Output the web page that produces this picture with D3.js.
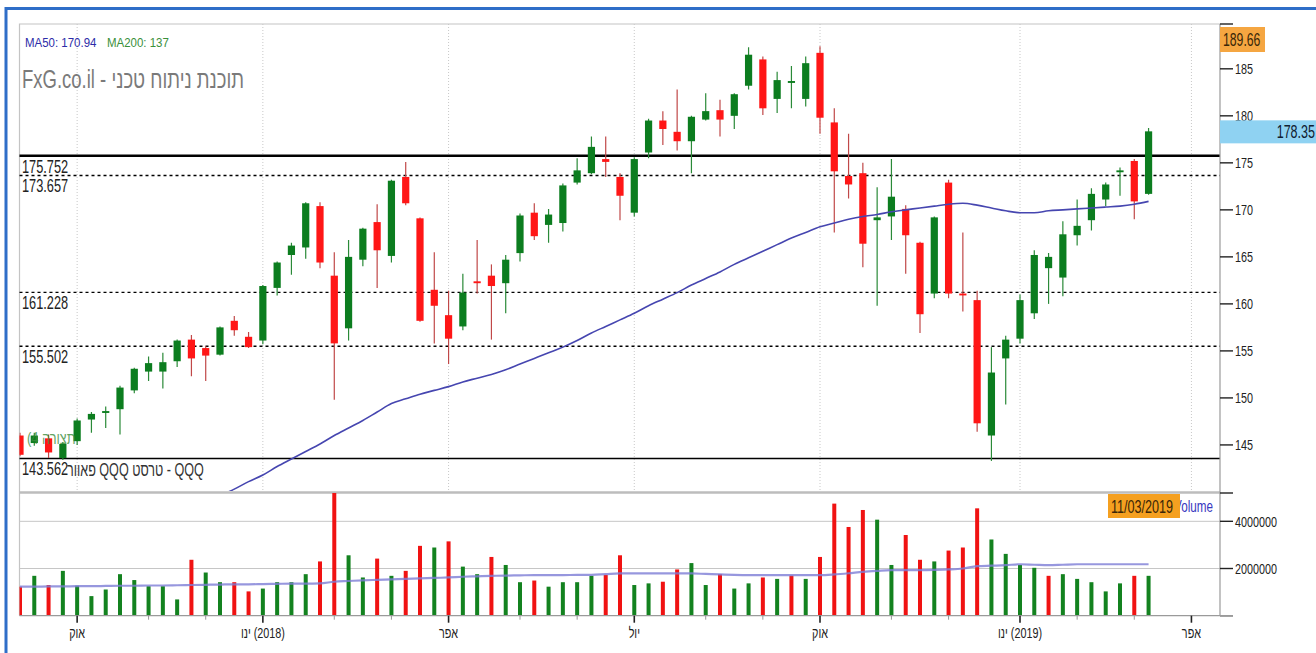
<!DOCTYPE html>
<html>
<head>
<meta charset="utf-8">
<script src="https://cdn.jsdelivr.net/npm/d3@7"></script>
<style>
body{margin:0;background:#fff;}
svg text{font-family:"Liberation Sans",Arial,sans-serif;}
</style>
</head>
<body>
<div class="canvas"></div>
<script>
// weekly bars, first bar on monday 04/09/2017
const startDate = new Date(2017, 8, 4);

const opens = [146.0,145.2,145.7,143.6,145.4,147.7,148.4,148.8,150.8,152.8,
  152.8,153.9,156.2,155.3,154.6,158.2,156.5,156.1,161.7,165.2,
  166.0,170.4,163.0,157.4,164.7,168.7,165.1,173.5,169.1,161.5,
  158.8,157.6,162.4,163.0,162.2,165.4,169.7,168.4,168.6,172.9,
  173.9,175.4,173.5,169.7,176.1,179.5,178.3,177.3,179.6,180.6,
  180.0,183.2,186.0,181.8,183.5,181.8,186.7,179.3,173.6,173.9,
  168.9,169.3,170.1,166.5,161.1,172.9,161.1,160.4,146.0,154.2,
  156.3,159.0,163.8,162.8,167.3,168.9,171.1,174.0,175.2,171.7];
const highs = [146.3,146.3,146.1,145.3,147.8,148.5,149.1,151.3,153.2,154.4,
  154.8,156.2,156.7,155.5,157.6,158.7,157.0,162.0,164.5,166.5,
  170.8,170.8,165.5,166.8,168.1,170.6,173.2,175.1,169.2,165.5,
  161.4,163.2,166.8,164.2,165.2,169.6,170.7,170.1,172.8,175.5,
  177.8,177.8,173.9,175.6,179.7,180.5,182.8,180.0,182.4,181.7,
  182.4,187.3,186.3,184.7,185.3,186.3,187.4,180.8,178.1,175.0,
  172.4,175.4,170.5,166.6,169.3,173.2,167.6,161.4,155.4,156.6,
  161.0,165.7,165.4,168.8,171.1,172.3,172.9,174.5,175.4,178.7];
const lows = [143.8,144.9,143.6,143.4,145.0,146.3,146.8,146.1,150.5,151.8,
  151.0,153.3,152.3,151.8,154.5,156.6,155.3,155.7,160.9,163.1,
  164.8,163.8,149.8,156.1,164.0,161.7,164.4,170.5,158.1,155.8,
  153.6,157.2,161.1,156.2,159.0,164.5,166.8,166.5,167.7,172.7,
  173.8,173.5,168.9,169.3,175.5,176.9,176.3,173.9,179.5,177.8,
  178.6,182.8,180.1,180.3,180.8,181.0,178.1,167.6,171.2,163.9,
  159.8,166.8,163.2,156.9,160.6,160.6,159.2,146.4,143.3,149.3,
  155.8,158.4,160.0,160.8,166.2,167.8,170.4,171.5,169.0,171.6];
const closes = [143.95,146.0,144.2,145.1,147.6,148.3,148.6,151.1,153.1,153.7,
  153.8,156.1,154.2,154.5,157.5,157.2,155.4,161.9,164.4,166.2,
  170.7,164.4,155.8,165.0,168.0,165.7,173.1,170.7,158.2,159.8,
  156.3,161.2,162.2,161.9,164.7,169.4,167.2,169.5,172.6,174.2,
  176.7,175.1,171.5,175.4,179.5,178.6,177.3,179.9,180.5,179.6,
  182.3,186.5,180.8,183.8,183.7,185.6,179.8,174.1,172.7,166.4,
  169.2,171.4,167.3,158.9,169.2,161.1,160.9,147.3,152.7,156.2,
  160.4,165.2,165.0,167.4,168.3,171.7,172.7,174.2,170.9,178.35];
const volumes = [1230000,1690000,1300000,1900000,1270000,830000,1110000,1760000,1510000,1250000,
  1250000,690000,2370000,1830000,1420000,1420000,1030000,1150000,1420000,1420000,
  1760000,2300000,5300000,2560000,1620000,2420000,1690000,1900000,2960000,2890000,
  3150000,2080000,1760000,2490000,2150000,1420000,1490000,1230000,1420000,1420000,
  1690000,1730000,2560000,1300000,1370000,1440000,1960000,2230000,1300000,1760000,
  1150000,1370000,1620000,1560000,1700000,1560000,2490000,4750000,3760000,4480000,
  4070000,2150000,3420000,2370000,2300000,2760000,2890000,4550000,3230000,2620000,
  2150000,2030000,1690000,1760000,1560000,1420000,1030000,1370000,1690000,1690000];
// volume average (millions)
const volAvg = [1.23,1.23,1.24,1.24,1.25,1.25,1.26,1.27,1.27,1.28,
  1.28,1.29,1.30,1.31,1.32,1.33,1.33,1.34,1.35,1.36,
  1.36,1.37,1.44,1.47,1.50,1.52,1.54,1.56,1.58,1.60,
  1.62,1.65,1.67,1.69,1.70,1.71,1.72,1.72,1.72,1.73,
  1.73,1.76,1.79,1.79,1.79,1.79,1.79,1.79,1.77,1.75,
  1.73,1.72,1.72,1.72,1.72,1.72,1.72,1.75,1.80,1.86,
  1.90,1.93,1.93,1.93,1.94,1.96,2.00,2.10,2.12,2.14,
  2.18,2.16,2.14,2.16,2.18,2.18,2.18,2.18,2.18,2.18];
// MA50 - below the panel for the first weeks
const ma50 = [null,null,null,null,null,null,null,null,null,null,null,null,null,null,
  139.6,140.3,141.1,141.8,142.7,143.5,144.3,145.1,146.0,146.8,
  147.6,148.5,149.4,149.9,150.4,150.8,151.2,151.7,152.1,152.5,
  153.0,153.6,154.2,154.8,155.4,156.1,156.9,157.6,158.3,159.0,
  159.8,160.5,161.2,162.0,162.7,163.4,164.2,164.9,165.6,166.3,
  167.0,167.6,168.2,168.6,169.0,169.3,169.5,169.8,170.0,170.2,
  170.4,170.6,170.7,170.5,170.2,169.9,169.7,169.7,169.9,170.0,
  170.1,170.2,170.3,170.4,170.6,170.9];

const levelValues = [175.752, 173.657, 161.228, 155.502, 143.562];
const priceTicks = [145,150,155,160,165,170,175,180,185];
const volTicks = [2000000, 4000000];
const monthNames = ['ינו','פבר','מרץ','אפר','מאי','יונ','יול','אוג','ספט','אוק','נוב','דצמ'];

const lastClose = 178.35, topPrice = 189.66;
const lastDate = '11/03/2019';

const W = 1316, H = 653;
const pLeft = 19.5, pRight = 1220, pTop = 24, priceBottom = 491, volTop = 493, volBottom = 615.7;

const green = '#0c7d1f', red = '#ff1616';

const svg = d3.select('.canvas').append('svg')
  .attr('width', W)
  .attr('height', H);

// condensed text helper
const txt = (g, tx, ty, s, o = {}) => g.append('text')
  .attr('transform', `translate(${tx},${ty}) scale(${o.sx || 0.72},1)`)
  .attr('font-size', o.size || 15)
  .attr('fill', o.fill || '#222')
  .attr('text-anchor', o.anchor || 'start')
  .text(s);

const weeks = d3.timeMonday.range(startDate, d3.timeWeek.offset(startDate, opens.length));
const bars = weeks.map((date, i) => ({
  date, open: opens[i], high: highs[i], low: lows[i], close: closes[i],
  volume: volumes[i], vavg: volAvg[i] * 1e6, ma: ma50[i],
  up: closes[i] >= opens[i],
  volUp: i === 0 ? closes[i] >= opens[i] : closes[i] >= closes[i - 1]
}));

const x = d3.scaleTime()
  .domain([startDate, d3.timeWeek.offset(startDate, 84)])
  .range([20, 1220]);
const y = d3.scaleLinear().domain([140.1, topPrice]).range([priceBottom, 25]);
const yv = d3.scaleLinear().domain([0, 5200000]).range([volBottom, volTop]);

// month ticks at first weekly bar of each month
const months = d3.timeMonth.range(new Date(2017, 9, 1), new Date(2019, 4, 1))
  .map(m => ({ m, date: d3.timeMonday.ceil(m), quarter: m.getMonth() % 3 === 0 }));

const defs = svg.append('defs');
defs.append('clipPath').attr('id', 'clipP')
  .append('rect').attr('x', pLeft).attr('y', pTop).attr('width', pRight - pLeft).attr('height', priceBottom - pTop);
defs.append('clipPath').attr('id', 'clipV')
  .append('rect').attr('x', pLeft).attr('y', volTop).attr('width', pRight - pLeft).attr('height', volBottom - volTop);

svg.append('rect').attr('width', W).attr('height', H).attr('fill', '#fff');

// outer blue frame
svg.append('rect')
  .attr('x', 6).attr('y', 8.5).attr('width', W + 20).attr('height', H + 20)
  .attr('fill', 'none').attr('stroke', '#2f6ec8').attr('stroke-width', 3);

// plot frame
svg.append('path')
  .attr('d', `M${pLeft},${volBottom}V${pTop}H${pRight}`)
  .attr('fill', 'none').attr('stroke', '#c4c4c4').attr('stroke-width', 1.2);

// vertical dotted grid (quarters)
svg.append('g').selectAll('line')
  .data(months.filter(d => d.quarter))
  .join('line')
  .attr('x1', d => x(d.date)).attr('x2', d => x(d.date))
  .attr('y1', pTop).attr('y2', priceBottom)
  .attr('stroke', '#c8c8c8').attr('stroke-dasharray', '1,2');

// panel separator
svg.append('line')
  .attr('x1', pLeft).attr('x2', pRight).attr('y1', 492.5).attr('y2', 492.5)
  .attr('stroke', '#bdbdbd').attr('stroke-width', 2.5);

// volume grid
svg.append('g').selectAll('line')
  .data(volTicks)
  .join('line')
  .attr('x1', pLeft).attr('x2', pRight)
  .attr('y1', d => yv(d)).attr('y2', d => yv(d))
  .attr('stroke', '#c6c6c6');

// level lines
const levelW = [2.6, 1.4, 1.4, 1.4, 1.5];
const levelDash = [null, '3,3', '3,3', '3,3', null];
svg.append('g').selectAll('line')
  .data(levelValues)
  .join('line')
  .attr('x1', pLeft).attr('x2', pRight)
  .attr('y1', d => y(d)).attr('y2', d => y(d))
  .attr('stroke', '#000')
  .attr('stroke-width', (d, i) => levelW[i])
  .attr('stroke-dasharray', (d, i) => levelDash[i]);

// watermark + MA captions
const notes = svg.append('g');
txt(notes, 25, 47, 'MA50: 170.94', { size: 13.5, sx: 0.85, fill: '#2c2ca8' });
txt(notes, 107, 47, 'MA200: 137', { size: 13.5, sx: 0.85, fill: '#3a8f3a' });
txt(notes, 22, 88, 'FxG.co.il - תוכנת ניתוח טכני', { size: 25, sx: 0.74, fill: '#7a7a7a' });

// candles
const graph = svg.append('g').attr('clip-path', 'url(#clipP)');

graph.selectAll('line.wick')
  .data(bars)
  .join('line')
  .attr('class', 'wick')
  .attr('x1', d => x(d.date)).attr('x2', d => x(d.date))
  .attr('y1', d => y(d.high)).attr('y2', d => y(d.low))
  .attr('stroke', d => d.up ? '#2a8a38' : '#c04848')
  .attr('stroke-width', 1.2);

graph.selectAll('rect.body')
  .data(bars)
  .join('rect')
  .attr('class', 'body')
  .attr('x', d => x(d.date) - 3.6)
  .attr('width', 7.2)
  .attr('y', d => y(Math.max(d.open, d.close)))
  .attr('height', d => Math.max(1.6, Math.abs(y(d.open) - y(d.close))))
  .attr('fill', d => d.up ? green : red);

// MA50
const maLine = d3.line()
  .defined(d => d.ma != null)
  .x(d => x(d.date))
  .y(d => y(d.ma))
  .curve(d3.curveMonotoneX);

graph.append('path')
  .datum(bars)
  .attr('d', maLine)
  .attr('fill', 'none')
  .attr('stroke', '#4646b0')
  .attr('stroke-width', 1.6);

// volume
const vol = svg.append('g').attr('clip-path', 'url(#clipV)');
vol.selectAll('rect')
  .data(bars)
  .join('rect')
  .attr('x', d => x(d.date) - 2)
  .attr('width', 4)
  .attr('y', d => yv(d.volume))
  .attr('height', d => volBottom - yv(d.volume))
  .attr('fill', d => d.volUp ? '#13821f' : '#f01212');

vol.append('path')
  .datum(bars)
  .attr('d', d3.line().x(d => x(d.date)).y(d => yv(d.vavg)).curve(d3.curveMonotoneX))
  .attr('fill', 'none')
  .attr('stroke', '#7d7dd6')
  .attr('stroke-width', 2.2)
  .attr('stroke-opacity', 0.8);

// level labels
const labels = svg.append('g');
levelValues.forEach(v => {
  txt(labels, 22, y(v) + 17, d3.format('.3f')(v), { size: 18, sx: 0.71 });
});

// title next to the lowest level label
txt(labels, 67, y(levelValues[4]) + 18, 'פאוור QQQ טרסט - QQQ', { size: 18, sx: 0.7, fill: '#333' });

// pattern marker
txt(labels, 27, 444, '(4 תצורה', { size: 16, sx: 0.8, fill: '#3b8e3b' }).attr('opacity', 0.8);

// right axis
const axis = svg.append('g');
axis.append('line')
  .attr('x1', pRight).attr('x2', pRight).attr('y1', pTop).attr('y2', volBottom)
  .attr('stroke', '#9a9a9a').attr('stroke-width', 1.2);

const tickYs = priceTicks.map(y).concat(volTicks.map(yv), [pTop, volTop, volBottom]);
axis.selectAll('line.tk')
  .data(tickYs)
  .join('line')
  .attr('class', 'tk')
  .attr('x1', pRight).attr('x2', pRight + 13)
  .attr('y1', d => d).attr('y2', d => d)
  .attr('stroke', '#222').attr('stroke-width', 1.4);

priceTicks.forEach(v => txt(axis, 1235, y(v) + 5.5, v, { size: 15 }));
volTicks.forEach(v => txt(axis, 1235, yv(v) + 5.5, v, { size: 15 }));

// value boxes
axis.append('rect').attr('x', pRight).attr('y', 27).attr('width', 45).attr('height', 25).attr('fill', '#f5a641');
txt(axis, 1223, 46, topPrice, { size: 18, sx: 0.68, fill: '#3a2608' });

axis.append('rect').attr('x', pRight).attr('y', y(lastClose) - 11).attr('width', 100).attr('height', 23).attr('fill', '#8fd2f2');
txt(axis, 1315, y(lastClose) + 7, lastClose, { size: 19, sx: 0.66, anchor: 'end', fill: '#102030' });

txt(axis, 1174, 512, 'Volume', { size: 16, sx: 0.73, fill: '#3838c0' });
axis.append('rect').attr('x', 1108).attr('y', 494).attr('width', 72).attr('height', 24).attr('fill', '#f5a020');
txt(axis, 1111, 513, lastDate, { size: 18, sx: 0.7, fill: '#3a2608' });

// bottom axis
const xa = svg.append('g');
xa.append('line')
  .attr('x1', pLeft).attr('x2', pRight + 13).attr('y1', volBottom).attr('y2', volBottom)
  .attr('stroke', '#9a9a9a').attr('stroke-width', 1.2);
xa.selectAll('line.mt')
  .data(months)
  .join('line')
  .attr('class', 'mt')
  .attr('x1', d => x(d.date)).attr('x2', d => x(d.date))
  .attr('y1', volBottom).attr('y2', d => volBottom + (d.quarter ? 7 : 4))
  .attr('stroke', d => d.quarter ? '#222' : '#999')
  .attr('stroke-width', d => d.quarter ? 1.6 : 1);

months.filter(d => d.quarter).forEach(d => {
  const mo = d.m.getMonth();
  const s = mo === 0 ? `${monthNames[mo]}\u200E (${d.m.getFullYear()})` : monthNames[mo];
  txt(xa, x(d.date), 638, s, { size: 15, anchor: 'middle' });
});
</script>
</body>
</html>
